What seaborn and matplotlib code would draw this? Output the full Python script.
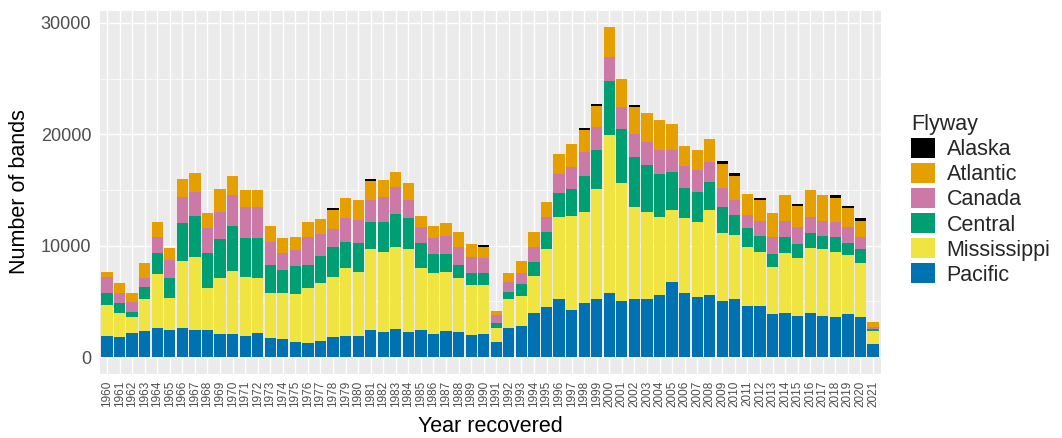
import numpy as np
import pandas as pd
import matplotlib
matplotlib.use("Agg")
import matplotlib.pyplot as plt
import matplotlib.patches as mpatches
import seaborn as sns

years = list(range(1960, 2022))

pacific = [1910, 1820, 2125, 2360, 2570, 2420, 2630, 2420, 2420, 2065,
           2065, 1885, 2125, 1735, 1585, 1375, 1225, 1435, 1765, 1910,
           1910, 2420, 2270, 2480, 2270, 2420, 2065, 2360, 2270, 1975,
           2065, 1375, 2570, 2780, 3920, 4515, 5175, 4215, 4870, 5175,
           5710, 5050, 5175, 5175, 5560, 6755, 5710, 5410, 5560, 5025,
           5175, 4575, 4575, 3855, 3975, 3680, 3975, 3680, 3615, 3855,
           3615, 1165]
mississippi = [2755, 2155, 1435, 2815, 4845, 2840, 5980, 6580, 3740, 5050,
               5650, 5320, 4990, 3975, 4185, 4275, 4935, 5175, 5440, 6045,
               5745, 7240, 7180, 7360, 7390, 5535, 5500, 5295, 4785, 4485,
               4395, 1195, 2605, 2690, 3345, 5145, 7410, 8435, 8165, 9865,
               14205, 10530, 8310, 7860, 6970, 6430, 6730, 6730, 7625, 6125,
               5770, 5320, 4875, 4245, 5325, 5170, 5775, 5980, 5835, 5295,
               4785, 1195]
central = [1105, 900, 505, 1075, 1945, 1855, 3440, 3680, 3200, 3440,
           4035, 3500, 3590, 2540, 2035, 2510, 2090, 2450, 2635, 2390,
           2600, 2420, 2630, 2990, 2780, 2240, 1675, 1585, 1195, 1105,
           1045, 450, 685, 1080, 1285, 1580, 2155, 2390, 3200, 3530,
           4870, 4930, 4485, 4190, 3945, 3440, 2690, 2690, 2540, 2335,
           1795, 1645, 1405, 1140, 1495, 1285, 1400, 1195, 1345, 1045,
           1260, 120]
canada = [1380, 895, 840, 805, 1375, 1585, 2330, 2150, 2180, 2480,
          2780, 2720, 2720, 2095, 1555, 1440, 2485, 1970, 1615, 2095,
          2035, 2005, 2300, 2390, 1645, 1435, 1405, 1615, 1590, 1375,
          1345, 750, 895, 955, 1345, 1345, 1735, 2030, 2180, 2090,
          2155, 1945, 2095, 2090, 2095, 1945, 2005, 1945, 1795, 1645,
          1345, 1200, 1375, 1495, 1435, 1555, 1435, 1375, 1345, 1435,
          1075, 180]
atlantic = [505, 840, 805, 1405, 1405, 1045, 1645, 1705, 1350, 2005,
            1705, 1555, 1555, 1405, 1345, 1195, 1405, 1350, 1730, 1850,
            1850, 1730, 1555, 1405, 1495, 1020, 1105, 1135, 1400, 1195,
            990, 385, 810, 1135, 1345, 1345, 1795, 2095, 1945, 1855,
            2690, 2480, 2390, 2600, 2690, 2330, 1790, 1855, 2095, 2180,
            2150, 1880, 1855, 2155, 2300, 1855, 2395, 2300, 2180, 1705,
            1495, 510]
alaska = [0, 0, 0, 0, 0, 0, 0, 0, 0, 0,
          0, 0, 0, 0, 0, 0, 0, 0, 230, 0,
          0, 210, 0, 0, 0, 0, 0, 0, 0, 0,
          200, 0, 0, 0, 0, 0, 0, 0, 220, 180,
          0, 0, 210, 0, 0, 0, 0, 0, 0, 250,
          250, 0, 150, 0, 0, 180, 0, 0, 200, 200,
          250, 0]

flyways = ["Alaska", "Atlantic", "Canada", "Central", "Mississippi", "Pacific"]
colors = ["#000000", "#E69F00", "#CC79A7", "#009E73", "#F0E442", "#0072B2"]

series = {"Alaska": alaska, "Atlantic": atlantic, "Canada": canada,
          "Central": central, "Mississippi": mississippi, "Pacific": pacific}
df = pd.DataFrame([
    {"year": y, "flyway": f, "bands": series[f][i]}
    for f in flyways for i, y in enumerate(years)
])

sns.set_theme(style="darkgrid")
plt.rcParams["font.family"] = ["Liberation Sans", "DejaVu Sans"]

fig = plt.figure(figsize=(10.62, 4.38), dpi=100)
ax = fig.add_axes([99.5 / 1062, 64.5 / 438, 781 / 1062, 363 / 438])

# stacked bars: first hue level ends up on top, like ggplot
sns.histplot(data=df, x="year", weights="bands", hue="flyway",
             hue_order=flyways, palette=colors, multiple="stack",
             discrete=True, shrink=0.9, alpha=1, linewidth=0,
             legend=False, ax=ax)

totals = df.groupby("year")["bands"].sum()
top = totals.max()
ax.set_xlim(years[0] - 0.6, years[-1] + 0.6)
ax.set_ylim(-0.05 * top, 1.05 * top)

ax.set_facecolor("#EBEBEB")
ax.set_xticks(years)
ax.set_xticklabels([str(y) for y in years], rotation=90, fontsize=8.5,
                   color="#4D4D4D")
ax.set_yticks([0, 10000, 20000, 30000])
ax.set_yticks([5000, 15000, 25000], minor=True)
ax.tick_params(axis="y", which="major", labelsize=13, labelcolor="#4D4D4D",
               length=3, color="#333333", width=0.8, pad=3)
ax.tick_params(axis="x", which="major", length=3, color="#333333",
               width=0.8, pad=2)
ax.tick_params(axis="y", which="minor", length=0)
ax.grid(which="major", color="white", linewidth=1.0)
ax.grid(which="minor", axis="y", color="white", linewidth=0.5)
ax.set_axisbelow(True)
for s in ax.spines.values():
    s.set_visible(False)

ax.set_xlabel("Year recovered", fontsize=15.5, color="black")
ax.set_ylabel("Number of bands", fontsize=15.5, color="black")
ax.xaxis.set_label_coords(0.5, -0.147)
ax.xaxis.label.set_va("center")
ax.yaxis.set_label_coords(-0.102, 0.5)
ax.yaxis.label.set_va("center")

handles = [mpatches.Patch(facecolor=c, edgecolor="none") for c in colors]
leg = fig.legend(handles, flyways, title="Flyway", loc="upper left",
                 bbox_to_anchor=(911 / 1062, 1 - 114 / 438), frameon=False,
                 fontsize=15.5, title_fontsize=15.5, handlelength=1.1,
                 handleheight=1.05, labelspacing=0.13, handletextpad=0.55,
                 borderpad=0, borderaxespad=0, alignment="left")

fig.savefig("out.png", dpi=100)
